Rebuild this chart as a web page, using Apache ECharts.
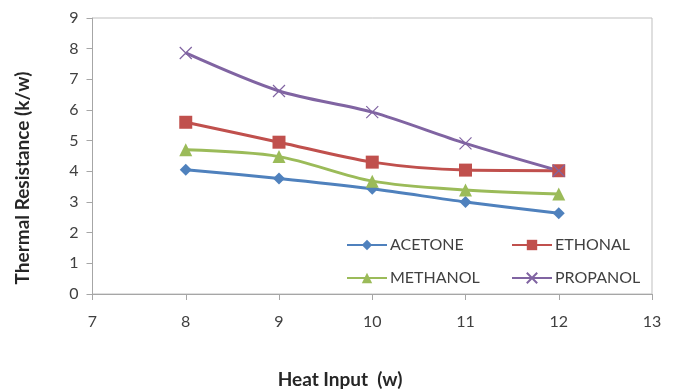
<!DOCTYPE html>
<html>
<head>
<meta charset="utf-8">
<script src="https://cdn.jsdelivr.net/npm/echarts@6/dist/echarts.min.js"></script>
<style>
  html, body { margin: 0; padding: 0; background: #fff; }
  #chart { width: 675px; height: 390px; }
</style>
</head>
<body>
<div id="chart"></div>
<script>
// Heat input (w) at each measurement
const heatInput = [8, 9, 10, 11, 12];
// Thermal resistance (k/w) per working fluid
const acetone  = [4.05, 3.77, 3.43, 3.00, 2.63];
const ethonal  = [5.60, 4.95, 4.30, 4.04, 4.02];
const methanol = [4.70, 4.48, 3.68, 3.39, 3.26];
const propanol = [7.86, 6.62, 5.93, 4.91, 4.02];

const seriesNames = ['ACETONE', 'ETHONAL', 'METHANOL', 'PROPANOL'];
const xTitle = 'Heat Input  (w)';
const yTitle = 'Thermal Resistance (k/w)';

const colors = ['#4F81BD', '#C0504D', '#9BBB59', '#8064A2'];
const symbols = ['diamond', 'rect', 'triangle', 'path://M0,0 L10,10 M10,0 L0,10'];
const symbolSizes = [12, 13, 13, 12];
const values = [acetone, ethonal, methanol, propanol];

const font = 'Lato, "Open Sans", sans-serif';

function pairs(ys) { return heatInput.map((x, i) => [x, ys[i]]); }

const series = seriesNames.map((name, k) => ({
  name: name,
  type: 'line',
  smooth: 0.3,
  data: pairs(values[k]),
  symbol: symbols[k],
  symbolSize: symbolSizes[k],
  showAllSymbol: true,
  lineStyle: { color: colors[k], width: 3 },
  itemStyle: k === 3
    ? { color: 'rgba(0,0,0,0)', borderColor: colors[k], borderWidth: 1.2 }
    : { color: colors[k] },
  emphasis: { disabled: true },
  z: 3
}));

// Legend laid out as a 2x2 block inside the plot
const legendPos = [
  { left: 341, top: 232 },
  { left: 506, top: 232 },
  { left: 341, top: 265 },
  { left: 506, top: 265 }
];
const legends = seriesNames.map((name, k) => ({
  data: [name],
  left: legendPos[k].left,
  top: legendPos[k].top,
  itemWidth: 40,
  itemHeight: 13,
  itemGap: 4,
  selectedMode: false,
  textStyle: { fontFamily: font, fontSize: 16, color: '#404040', padding: [0, 0, 0, -2] }
}));

const titleStyle = { fontFamily: font, fontSize: 19, fontWeight: 'bold', fill: '#262626' };

const chart = echarts.init(document.getElementById('chart'), null, { renderer: 'canvas' });
chart.setOption({
  animation: false,
  backgroundColor: '#ffffff',
  color: colors,
  legend: legends,
  graphic: [
    {
      type: 'text', x: 340, y: 380,
      style: Object.assign({ text: xTitle, align: 'center', verticalAlign: 'middle' }, titleStyle)
    },
    {
      type: 'text', x: 23, y: 178, rotation: Math.PI / 2,
      style: Object.assign({ text: yTitle, align: 'center', verticalAlign: 'middle' }, titleStyle)
    }
  ],
  grid: {
    left: 92.5, right: 23, top: 18, bottom: 96,
    show: true, borderColor: '#bfbfbf', borderWidth: 1, backgroundColor: 'transparent'
  },
  xAxis: {
    type: 'value', min: 7, max: 13, interval: 1,
    axisLine: { lineStyle: { color: '#a6a6a6', width: 1 } },
    axisTick: { show: true, length: 6, lineStyle: { color: '#a6a6a6' } },
    axisLabel: { fontFamily: font, fontSize: 16, color: '#404040', margin: 20 },
    splitLine: { show: false }
  },
  yAxis: {
    type: 'value', min: 0, max: 9, interval: 1,
    axisLine: { show: true, lineStyle: { color: '#a6a6a6', width: 1 } },
    axisTick: { show: true, length: 6, lineStyle: { color: '#a6a6a6' } },
    axisLabel: { fontFamily: font, fontSize: 16, color: '#404040', margin: 14 },
    splitLine: { show: false }
  },
  series: series
});
</script>
</body>
</html>
